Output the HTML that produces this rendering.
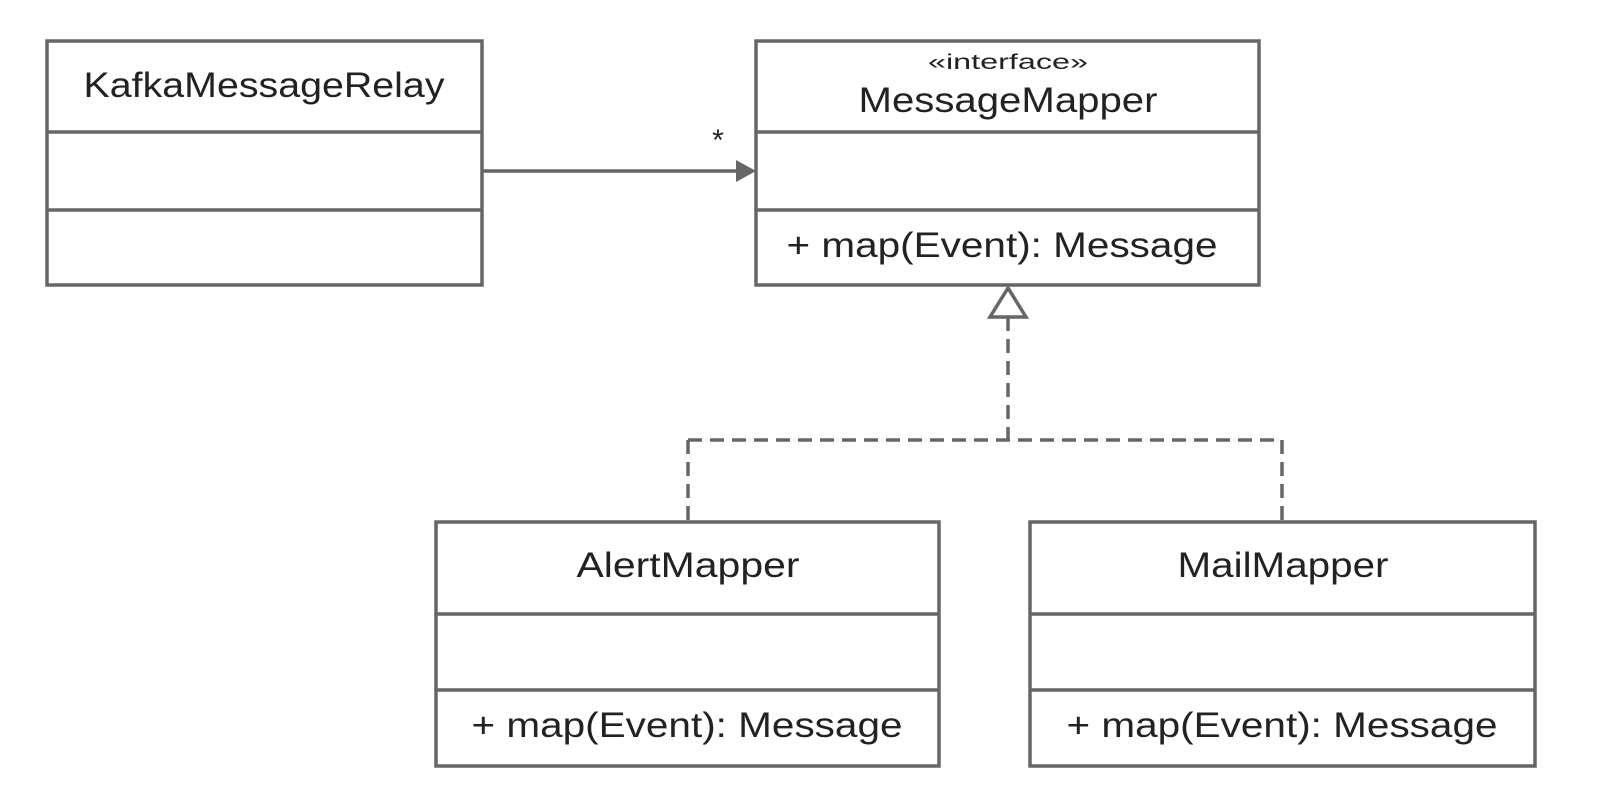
<!DOCTYPE html>
<html><head><meta charset="utf-8"><style>html,body{margin:0;padding:0;background:#fff;}svg{display:block}</style></head>
<body>
<svg width="1602" height="792" viewBox="0 0 1602 792" xmlns="http://www.w3.org/2000/svg">
<g fill="#fff" stroke="#666" stroke-width="3.5">
<rect x="47" y="41" width="435" height="244"/>
<line x1="47" y1="132" x2="482" y2="132"/><line x1="47" y1="210" x2="482" y2="210"/>
<rect x="756" y="41" width="503" height="244"/>
<line x1="756" y1="132" x2="1259" y2="132"/><line x1="756" y1="210" x2="1259" y2="210"/>
<rect x="436" y="522" width="503" height="244"/>
<line x1="436" y1="614" x2="939" y2="614"/><line x1="436" y1="690" x2="939" y2="690"/>
<rect x="1030" y="522" width="505" height="244"/>
<line x1="1030" y1="614" x2="1535" y2="614"/><line x1="1030" y1="690" x2="1535" y2="690"/>
</g>
<line x1="482" y1="171" x2="738" y2="171" stroke="#666" stroke-width="3.5"/>
<polygon points="756,171 736,160 736,182" fill="#666"/>
<g stroke="#666" stroke-width="3.5" fill="none" stroke-dasharray="14,8">
<line x1="1008" y1="317" x2="1008" y2="440"/>
<line x1="688" y1="440" x2="1282" y2="440"/>
<line x1="688" y1="440" x2="688" y2="522"/>
<line x1="1282" y1="440" x2="1282" y2="522"/>
</g>
<polygon points="1008,288 990,317 1026,317" fill="#fff" stroke="#666" stroke-width="3.5"/>
<g font-family="Liberation Sans, sans-serif" fill="#222" text-anchor="middle">
<text x="264" y="97" font-size="35" textLength="361" lengthAdjust="spacingAndGlyphs">KafkaMessageRelay</text>
<text x="718" y="150" font-size="30">*</text>
<text x="1008" y="69" font-size="21" textLength="160" lengthAdjust="spacingAndGlyphs">«interface»</text>
<text x="1008" y="112" font-size="35" textLength="299" lengthAdjust="spacingAndGlyphs">MessageMapper</text>
<text x="1002" y="257" font-size="35" textLength="431" lengthAdjust="spacingAndGlyphs">+ map(Event): Message</text>
<text x="688" y="577" font-size="35" textLength="223" lengthAdjust="spacingAndGlyphs">AlertMapper</text>
<text x="687" y="737" font-size="35" textLength="431" lengthAdjust="spacingAndGlyphs">+ map(Event): Message</text>
<text x="1283" y="577" font-size="35" textLength="211" lengthAdjust="spacingAndGlyphs">MailMapper</text>
<text x="1282" y="737" font-size="35" textLength="431" lengthAdjust="spacingAndGlyphs">+ map(Event): Message</text>
</g>
</svg>
</body></html>
